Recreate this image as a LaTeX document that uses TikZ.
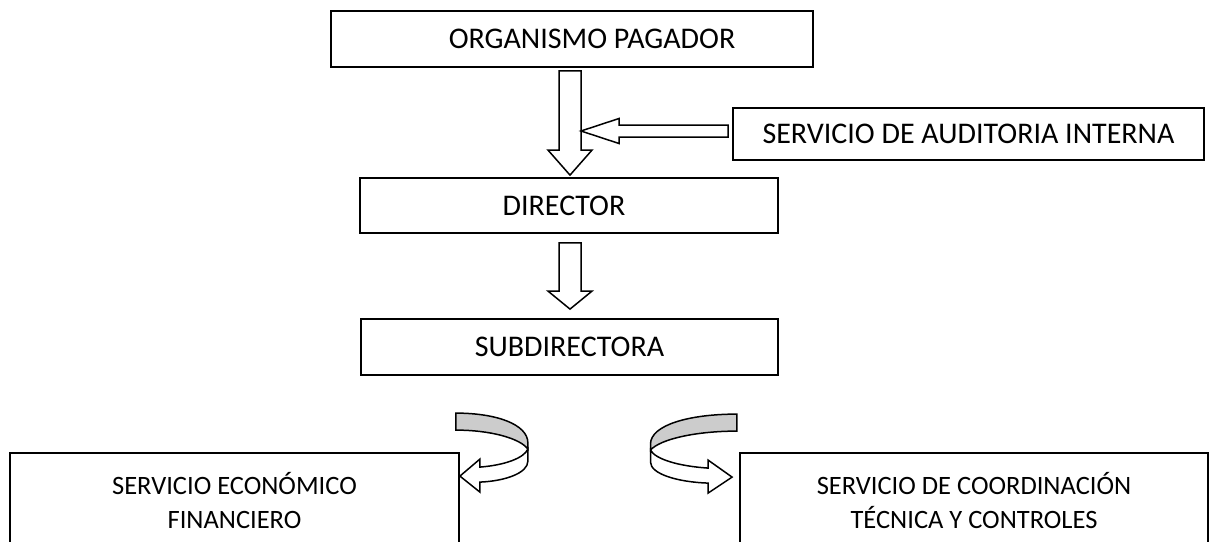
\documentclass[tikz,border=0pt]{standalone}
\usepackage{fontspec}
\setmainfont{Carlito}
\usetikzlibrary{calc}
\tikzset{
  box/.style={draw, line width=1.8pt, inner sep=0pt, align=center, font=\fontsize{30}{33}\selectfont},
  lowbox/.style={box, font=\fontsize{26.5}{34}\selectfont},
  fat/.style={draw, fill=white, line width=1.5pt, line join=miter},
  turnarrow/.pic={
    \draw[fat, fill=black!20] (-4,-63) .. controls (36,-63) and (68,-52) .. (68,-33) -- (68,-27) .. controls (60,-38) and (30,-46) .. (-4,-46) -- cycle;
    \draw[fat] (68,-27) -- (68,-15) .. controls (68,-3) and (45,5) .. (20,6) -- (20,16) -- (0,0) -- (20,-17) -- (20,-9) .. controls (45,-11) and (64,-18) .. (68,-27) -- cycle;
  }
}
% start, tip, head length
\newcommand{\fatdown}[3]{%
  \draw[fat] ($(#1)+(-11,0)$) -- ($(#1)+(11,0)$) -- ($(#2)+(11,-#3)$) -- ($(#2)+(22,-#3)$) -- (#2) -- ($(#2)+(-22,-#3)$) -- ($(#2)+(-11,-#3)$) -- cycle;}
\begin{document}
\begin{tikzpicture}[x=1pt, y=-1pt]
	\clip (0,0) rectangle (1226,541);
	\node[box, minimum width=482pt, minimum height=56pt] (org) at (572,39) {\hspace*{40pt}ORGANISMO PAGADOR};
	\node[box, minimum width=471pt, minimum height=52pt] (aud) at (968.5,134) {SERVICIO DE AUDITORIA INTERNA};
	\node[box, minimum width=418pt, minimum height=55pt] (dir) at (569,205.5) {DIRECTOR\hspace*{10pt}};
	\node[box, minimum width=417pt, minimum height=56pt] (sub) at (569.5,347) {SUBDIRECTORA};
	\node[lowbox, minimum width=449pt, minimum height=96pt] (eco) at (234.5,501) {SERVICIO ECONÓMICO\\FINANCIERO};
	\node[lowbox, minimum width=468pt, minimum height=96pt] (coord) at (974,501) {SERVICIO DE COORDINACIÓN\\TÉCNICA Y CONTROLES};
	% arrows
	\coordinate (a1s) at ($(org.south)+(-2,3)$);
	\coordinate (a1t) at ($(dir.north)+(1,-2)$);
	\fatdown{a1s}{a1t}{25}
	\coordinate (ls) at ($(aud.west)+(-4,-3)$);
	\coordinate (lt) at ($(a1s|-ls)+(11,0)$);
	\draw[fat] (lt) -- ($(lt)+(38,-12.5)$) -- ($(lt)+(38,-6)$) -- ($(ls)+(0,-6)$) -- ($(ls)+(0,6)$) -- ($(lt)+(38,6)$) -- ($(lt)+(38,12.5)$) -- cycle;
	\coordinate (a2s) at ($(dir.south)+(1,9)$);
	\coordinate (a2t) at ($(sub.north)+(0.5,-9)$);
	\fatdown{a2s}{a2t}{18}
	\pic at ($(eco.north east)+(0,24)$) {turnarrow};
	\pic[xscale=-1.2] at ($(coord.north west)+(-7,25)$) {turnarrow};
\end{tikzpicture}
\end{document}
